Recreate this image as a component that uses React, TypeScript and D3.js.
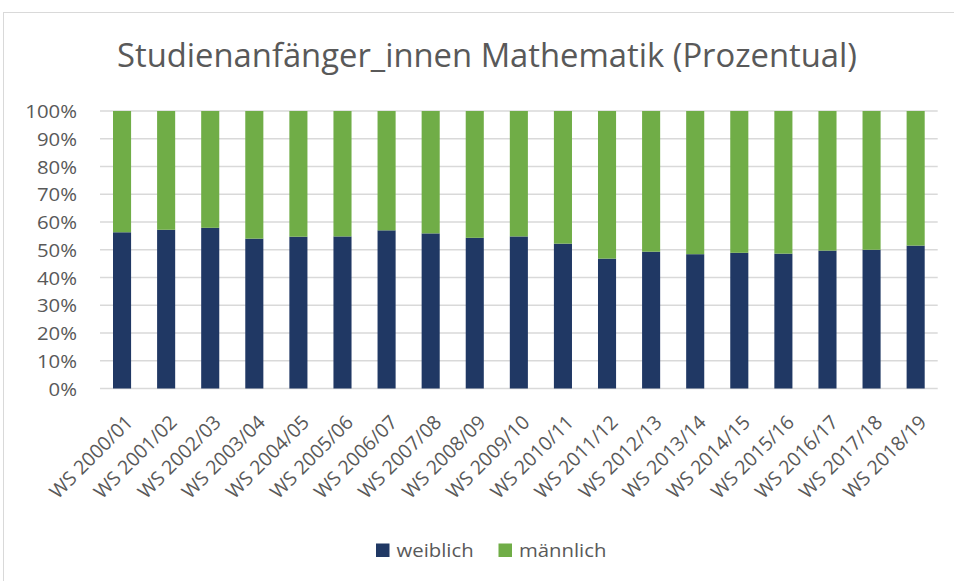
import { useEffect, useRef } from "react";
import * as d3 from "d3";

const semesters = [
  "WS 2000/01", "WS 2001/02", "WS 2002/03", "WS 2003/04", "WS 2004/05",
  "WS 2005/06", "WS 2006/07", "WS 2007/08", "WS 2008/09", "WS 2009/10",
  "WS 2010/11", "WS 2011/12", "WS 2012/13", "WS 2013/14", "WS 2014/15",
  "WS 2015/16", "WS 2016/17", "WS 2017/18", "WS 2018/19",
];

// share of female first-year students in %
const weiblich = [
  56.3, 57.2, 57.9, 54.0, 54.7, 54.8, 57.0, 55.9, 54.3, 54.8,
  52.2, 46.8, 49.3, 48.4, 48.9, 48.6, 49.7, 50.0, 51.5,
];
const maennlich = weiblich.map((w) => 100 - w);

const yTicks = [0, 10, 20, 30, 40, 50, 60, 70, 80, 90, 100];
const seriesNames = ["weiblich", "männlich"];
const seriesColors = ["#203864", "#70ad47"];

const FONT = "'Open Sans', sans-serif";
const TEXT = "#595959";
const STRETCH = 1.07; // the original text is a bit wider than Open Sans

const App = () => {
  const svgRef = useRef<SVGSVGElement | null>(null);

  useEffect(() => {
    const width = 954;
    const height = 581;
    const svg = d3.select(svgRef.current);
    svg.selectAll("*").remove();

    // chart frame
    svg
      .append("rect")
      .attr("x", 3.5)
      .attr("y", 12.5)
      .attr("width", width + 10)
      .attr("height", height)
      .attr("fill", "#fff")
      .attr("stroke", "#d9d9d9");

    svg
      .append("text")
      .attr("x", 487)
      .attr("y", 67)
      .attr("text-anchor", "middle")
      .attr("fill", TEXT)
      .attr("font-family", FONT)
      .attr("font-size", 32)
      .attr("textLength", 740)
      .attr("lengthAdjust", "spacingAndGlyphs")
      .text("Studienanfänger_innen Mathematik (Prozentual)");

    const margin = { top: 111, left: 100 };
    const innerWidth = 937.7 - margin.left;
    const innerHeight = 388.5 - margin.top;

    const g = svg
      .append("g")
      .attr("transform", `translate(${margin.left},${margin.top})`);

    const x = d3
      .scaleBand()
      .domain(semesters)
      .range([0, innerWidth])
      .paddingInner(0.59)
      .paddingOuter(0.295);
    const y = d3.scaleLinear().domain([0, 100]).range([innerHeight, 0]);

    g.append("g")
      .selectAll("line")
      .data(yTicks)
      .join("line")
      .attr("x1", 0)
      .attr("x2", innerWidth)
      .attr("y1", (d) => y(d))
      .attr("y2", (d) => y(d))
      .attr("stroke", "#d9d9d9")
      .attr("stroke-width", 1.3);

    g.append("g")
      .selectAll("text")
      .data(yTicks)
      .join("text")
      .attr(
        "transform",
        (d) => `translate(-23,${y(d) + 7}) scale(${STRETCH},1)`
      )
      .attr("text-anchor", "end")
      .attr("fill", TEXT)
      .attr("font-family", FONT)
      .attr("font-size", 19)
      .text((d) => `${d}%`);

    const rows = semesters.map((s, i) => ({
      semester: s,
      weiblich: weiblich[i],
      männlich: maennlich[i],
    }));
    const stacked = d3.stack<any>().keys(seriesNames)(rows);

    stacked.forEach((layer, li) => {
      g.append("g")
        .selectAll("rect")
        .data(layer)
        .join("rect")
        .attr("x", (d) => x(d.data.semester) ?? 0)
        .attr("width", x.bandwidth())
        .attr("y", (d) => y(d[1]))
        .attr("height", (d) => y(d[0]) - y(d[1]))
        .attr("fill", seriesColors[li]);
    });

    g.append("g")
      .selectAll("text")
      .data(semesters)
      .join("text")
      .attr(
        "transform",
        (d) =>
          `translate(${(x(d) ?? 0) + x.bandwidth() / 2 + 12},${innerHeight + 35}) rotate(-45)`
      )
      .attr("text-anchor", "end")
      .attr("fill", TEXT)
      .attr("font-family", FONT)
      .attr("font-size", 19.5)
      .text((d) => d);

    // legend
    const legend = svg.append("g").attr("transform", "translate(376,543.5)");
    const legendX = [0, 122.5];
    seriesNames.forEach((name, i) => {
      legend
        .append("rect")
        .attr("x", legendX[i])
        .attr("y", 0)
        .attr("width", 13.5)
        .attr("height", 13.5)
        .attr("fill", seriesColors[i]);
      legend
        .append("text")
        .attr("transform", `translate(${legendX[i] + 20.5},13.2) scale(${STRETCH},1)`)
        .attr("fill", TEXT)
        .attr("font-family", FONT)
        .attr("font-size", 19)
        .text(name);
    });
  }, []);

  return (
    <svg
      ref={svgRef}
      width={954}
      height={581}
      style={{ position: "absolute", left: 0, top: 0 }}
    />
  );
};

export default App;
